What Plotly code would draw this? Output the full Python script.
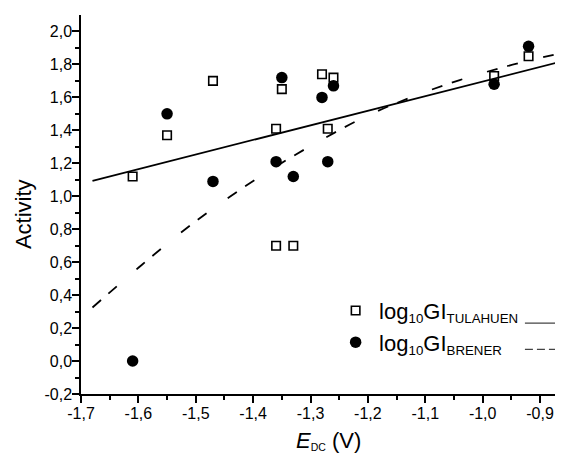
import numpy as np
import plotly.graph_objects as go

FONT = "Liberation Sans, Arial, sans-serif"

# log10 GI Tulahuen (open squares)
tul_x = [-1.61, -1.55, -1.47, -1.36, -1.35, -1.28, -1.26, -1.27, -0.98, -0.92, -1.36, -1.33]
tul_y = [1.12, 1.37, 1.70, 1.41, 1.65, 1.74, 1.72, 1.41, 1.73, 1.85, 0.70, 0.70]

# log10 GI Brener (filled circles)
bre_x = [-1.55, -1.47, -1.36, -1.35, -1.33, -1.28, -1.26, -1.27, -0.98, -0.92, -1.61]
bre_y = [1.50, 1.09, 1.21, 1.72, 1.12, 1.60, 1.67, 1.21, 1.68, 1.91, 0.00]

# linear fit for Tulahuen (solid)
fit_tul_x = [-1.68, -0.86]
fit_tul_y = [1.094, 1.82]

# fitted curve for Brener (dashed)
fit_bre_x = [-1.68, -1.60, -1.52, -1.44, -1.36, -1.28, -1.20, -1.12, -1.04, -0.96, -0.86]
fit_bre_y = [0.325, 0.566, 0.795, 0.999, 1.181, 1.344, 1.490, 1.607, 1.705, 1.787, 1.872]

x_ticks = [-1.7, -1.6, -1.5, -1.4, -1.3, -1.2, -1.1, -1.0, -0.9]
x_labels = ["-1,7", "-1,6", "-1,5", "-1,4", "-1,3", "-1,2", "-1,1", "-1,0", "-0,9"]
y_ticks = [-0.2, 0.0, 0.2, 0.4, 0.6, 0.8, 1.0, 1.2, 1.4, 1.6, 1.8, 2.0]
y_labels = ["-0,2", "0,0", "0,2", "0,4", "0,6", "0,8", "1,0", "1,2", "1,4", "1,6", "1,8", "2,0"]


def sub(text, size):
    # plotly shrinks <sub> to 70%, so wrap it in a larger span
    return f"<span style='font-size:{size}px'><sub>{text}</sub></span>"


fig = go.Figure()
fig.add_trace(go.Scatter(x=fit_tul_x, y=fit_tul_y, mode="lines",
                         line=dict(color="black", width=1.8), showlegend=False))
fig.add_trace(go.Scatter(x=fit_bre_x, y=fit_bre_y, mode="lines", line_shape="spline",
                         line=dict(color="black", width=1.8, dash="11px,10px,11px,26px"),
                         showlegend=False))
fig.add_trace(go.Scatter(
    x=tul_x, y=tul_y, mode="markers",
    name="log" + sub("10", 19) + "GI" + sub("TULAHUEN", 19),
    marker=dict(symbol="square-open", size=8.5, color="black", line=dict(width=1.6)),
))
fig.add_trace(go.Scatter(
    x=bre_x, y=bre_y, mode="markers",
    name="log" + sub("10", 19) + "GI" + sub("BRENER", 19),
    marker=dict(symbol="circle", size=11.5, color="black"),
))

axis_common = dict(
    showgrid=False, zeroline=False, showline=True, linecolor="black", linewidth=1.5,
    ticks="outside", ticklen=7, tickwidth=1.5, tickcolor="black",
    tickfont=dict(family=FONT, size=16, color="black"), tickmode="array",
)
fig.update_xaxes(
    range=[-1.7, -0.86], tickvals=x_ticks, ticktext=x_labels, ticklabelstandoff=-3,
    minor=dict(tickmode="array", tickvals=list(np.round(np.arange(-1.65, -0.86, 0.1), 2)),
               ticks="outside", ticklen=4, tickwidth=1.5, tickcolor="black"),
    **axis_common,
)
fig.update_yaxes(
    range=[-0.2, 2.1], tickvals=y_ticks, ticktext=y_labels, ticklabelstandoff=-3,
    minor=dict(tickmode="array", tickvals=list(np.round(np.arange(-0.1, 2.1, 0.2), 2)),
               ticks="outside", ticklen=4, tickwidth=1.5, tickcolor="black"),
    **axis_common,
)

fig.add_annotation(text="Activity", xref="paper", yref="paper", x=-0.118, y=0.475,
                   textangle=-90, showarrow=False, xanchor="center", yanchor="middle",
                   font=dict(family=FONT, size=22, color="black"))
fig.add_annotation(text="<i>E</i>" + sub("DC", 15) + " (V)",
                   xref="paper", yref="paper", x=0.513, y=-0.124,
                   showarrow=False, xanchor="center", yanchor="middle",
                   font=dict(family=FONT, size=22, color="black"))

# line samples next to the legend text
fig.add_shape(type="line", xref="paper", yref="paper", x0=0.921, x1=1.0, y0=0.187, y1=0.187,
              line=dict(color="#444", width=1.2))
fig.add_shape(type="line", xref="paper", yref="paper", x0=0.921, x1=1.0, y0=0.118, y1=0.118,
              line=dict(color="#444", width=1.2, dash="8px,4px"))

# the page body adds an 8px margin, so the figure is sized to fill the rest of the window
fig.update_layout(
    width=555, height=449,
    margin=dict(l=73, r=0, t=7, b=63),
    plot_bgcolor="white", paper_bgcolor="white",
    font=dict(family=FONT, size=16, color="black"),
    legend=dict(x=0.521, y=0.275, xanchor="left", yanchor="top", itemwidth=37,
                font=dict(family=FONT, size=22, color="black"),
                bgcolor="rgba(0,0,0,0)", tracegroupgap=0),
)

fig.write_html("out.html")
